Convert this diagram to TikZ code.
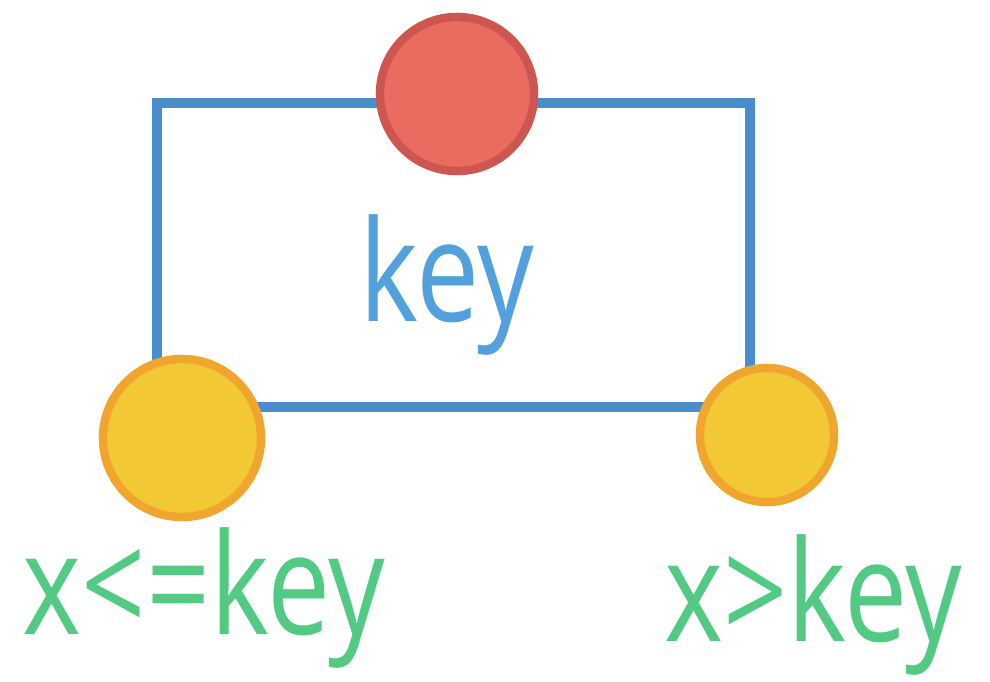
\documentclass[tikz,border=0pt]{standalone}
\usepackage{fontspec}
\setmainfont{Open Sans}
\usetikzlibrary{positioning}
\definecolor{boxBlue}{RGB}{72,142,204}
\definecolor{keyBlue}{RGB}{82,160,220}
\definecolor{rootFill}{RGB}{234,108,96}
\definecolor{rootLine}{RGB}{206,86,80}
\definecolor{leafFill}{RGB}{242,200,52}
\definecolor{leafLine}{RGB}{240,166,46}
\definecolor{labelGreen}{RGB}{82,202,132}
\tikzstyle{keyBox}=[draw=boxBlue,line width=2.8pt,rectangle,inner sep=0pt]
\tikzstyle{rootNode}=[draw=rootLine,fill=rootFill,circle,line width=2.4pt,inner sep=0pt]
\tikzstyle{leafNode}=[draw=leafLine,fill=leafFill,circle,line width=2.4pt,inner sep=0pt]
\tikzstyle{labelText}=[inner sep=0pt,font=\fontsize{40}{40}\selectfont,xscale=0.8]

\begin{document}
\begin{tikzpicture}[x=0.01cm,y=-0.01cm]

    \useasboundingbox (0,0) rectangle (990,682);

    % nodes

    \node[keyBox, minimum width=5.93cm, minimum height=3.04cm] (box) at (453.5,255) {};

    \node[rootNode, minimum size=1.54cm] (root) at (457,94) {};
    \node[leafNode, minimum size=1.58cm] (left) at (182,438) {};
    \node[leafNode, minimum size=1.34cm] (right) at (767,435) {};

    % labels

    \node[labelText, text=keyBlue] (key) at (447,285) {key};
    \node[labelText, text=labelGreen] (leftLabel) at (204,598) {x<=key};
    \node[labelText, text=labelGreen] (rightLabel) at (813,605) {x>key};

\end{tikzpicture}
\end{document}
